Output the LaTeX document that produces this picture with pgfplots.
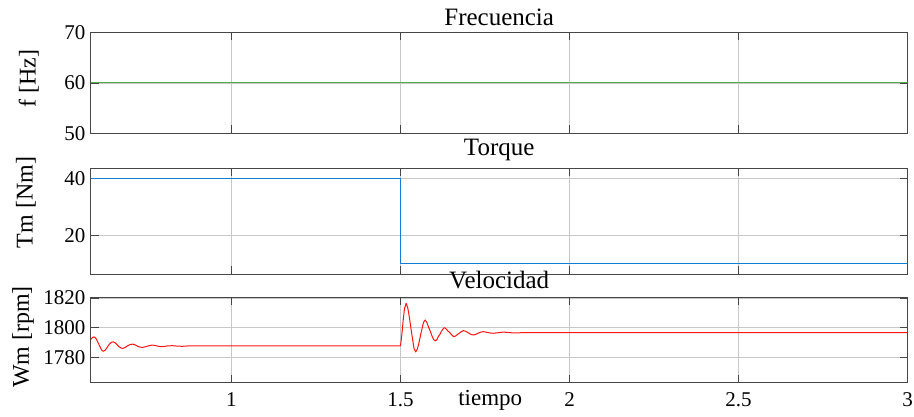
\documentclass[border=0pt]{standalone}
\usepackage{pgfplots}
\pgfplotsset{compat=1.18}
\usepackage{fontspec}
\setmainfont{Liberation Serif}
\definecolor{fgreen}{RGB}{77,175,74}
\definecolor{tblue}{RGB}{20,125,210}
\definecolor{vred}{RGB}{255,20,20}
\definecolor{axgray}{RGB}{70,70,70}
\definecolor{gridgray}{RGB}{200,200,200}
\pgfplotsset{
  myax/.style={
    scale only axis,
    anchor=south west,
    width=817pt,
    xmin=0.584, xmax=3,
    xtick={1,1.5,2,2.5,3},
    grid=major,
    major grid style={gridgray, line width=0.5pt},
    axis line style={axgray, line width=0.6pt},
    tick style={axgray, line width=0.6pt},
    tick align=inside,
    major tick length=8pt,
    xtick pos=both, ytick pos=both,
    /pgf/number format/assume math mode=true,
    /pgf/number format/set thousands separator={},
    tick label style={font=\fontsize{21}{25}\selectfont},
    yticklabel style={xshift=-1.7pt},
    xticklabel style={yshift=-6pt},
    title style={font=\fontsize{25}{29}\selectfont, at={(rel axis cs:0.5,1)}, anchor=base},
    every axis y label/.style={rotate=90, anchor=center, font=\fontsize{24}{28}\selectfont},
  }
}
\begin{document}
\begin{tikzpicture}[x=1pt,y=1pt]
\path[use as bounding box] (0,0) rectangle (914,416);
% Top
\begin{axis}[myax, at={(90.7pt,282.7pt)}, height=101pt,
  ymin=50, ymax=70, ytick={50,60,70},
  xticklabels={},
  title={Frecuencia}, title style={yshift=0.8pt},
  ylabel={f [Hz]}, ylabel style={at={(rel axis cs:0,0.54)}, yshift=62pt}]
\addplot[fgreen, line width=1.2pt] coordinates {(0.584,60) (3,60)};
\end{axis}
% Middle
\begin{axis}[myax, at={(90.7pt,141.7pt)}, height=106pt,
  ymin=6.32, ymax=43.5, ytick={20,40},
  xticklabels={},
  title={Torque}, title style={yshift=6.3pt},
  ylabel={Tm [Nm]}, ylabel style={at={(rel axis cs:0,0.677)}, yshift=64.7pt}]
\addplot[tblue, line width=1.2pt] coordinates {(0.584,40) (1.5,40) (1.5,10) (3,10)};
\end{axis}
% Bottom
\begin{axis}[myax, at={(90.7pt,33.3pt)}, height=85.4pt,
  ymin=1762.8, ymax=1820.5, ytick={1780,1800,1820},
  title={Velocidad}, title style={yshift=2.7pt},
  ylabel={Wm [rpm]}, ylabel style={at={(rel axis cs:0,0.535)}, yshift=67.5pt},
  xlabel={tiempo},
  xlabel style={at={(rel axis cs:0.5,0)}, anchor=base, yshift=-23pt, xshift=-9pt, font=\fontsize{23}{27}\selectfont}]
\addplot[vred, line width=1.0pt, line join=round] coordinates {
(0.584,1792.0) (0.589,1793.3) (0.594,1793.8) (0.600,1792.5) (0.606,1789.8)
(0.612,1786.8) (0.617,1784.7) (0.621,1784.0) (0.627,1784.8) (0.633,1786.8)
(0.639,1788.8) (0.645,1790.1) (0.651,1790.4) (0.657,1789.6) (0.663,1788.2)
(0.669,1786.9) (0.674,1786.2) (0.679,1786.0) (0.685,1786.5) (0.692,1787.6)
(0.700,1788.5) (0.708,1788.9) (0.716,1788.3) (0.723,1787.4) (0.730,1786.8)
(0.738,1786.7) (0.745,1787.0) (0.752,1787.5) (0.760,1788.0) (0.767,1788.2)
(0.775,1787.9) (0.782,1787.5) (0.790,1787.2) (0.797,1787.2) (0.805,1787.4)
(0.812,1787.7) (0.826,1787.8) (0.840,1787.5) (0.855,1787.4) (0.870,1787.6)
(0.900,1787.6) (1.000,1787.6) (1.500,1787.6)
(1.504,1795.0) (1.508,1805.0) (1.512,1813.0) (1.517,1816.4) (1.522,1813.0)
(1.527,1806.0) (1.531,1799.5) (1.536,1792.0) (1.540,1786.0) (1.545,1783.6)
(1.550,1785.5) (1.555,1790.0) (1.559,1794.5) (1.564,1799.5) (1.568,1803.5)
(1.573,1805.2) (1.578,1803.5) (1.583,1800.5) (1.588,1797.7) (1.593,1794.5)
(1.598,1792.0) (1.603,1791.0) (1.608,1792.0) (1.612,1794.0) (1.617,1795.6)
(1.621,1797.5) (1.626,1799.2) (1.630,1800.0) (1.635,1799.2) (1.640,1797.8)
(1.645,1796.8) (1.650,1795.5) (1.655,1794.3) (1.659,1793.9) (1.664,1794.5)
(1.669,1795.5) (1.674,1796.2) (1.679,1797.1) (1.686,1798.0) (1.693,1797.5)
(1.701,1796.4) (1.708,1795.5) (1.716,1795.0) (1.723,1795.5) (1.730,1796.3)
(1.738,1797.0) (1.745,1797.3) (1.752,1797.0) (1.760,1796.6) (1.768,1796.3)
(1.775,1796.2) (1.790,1796.6) (1.805,1797.0) (1.820,1796.7) (1.835,1796.4)
(1.850,1796.5) (1.870,1796.7) (1.900,1796.6) (2.000,1796.6) (3.000,1796.6)
};
\end{axis}
\end{tikzpicture}
\end{document}
